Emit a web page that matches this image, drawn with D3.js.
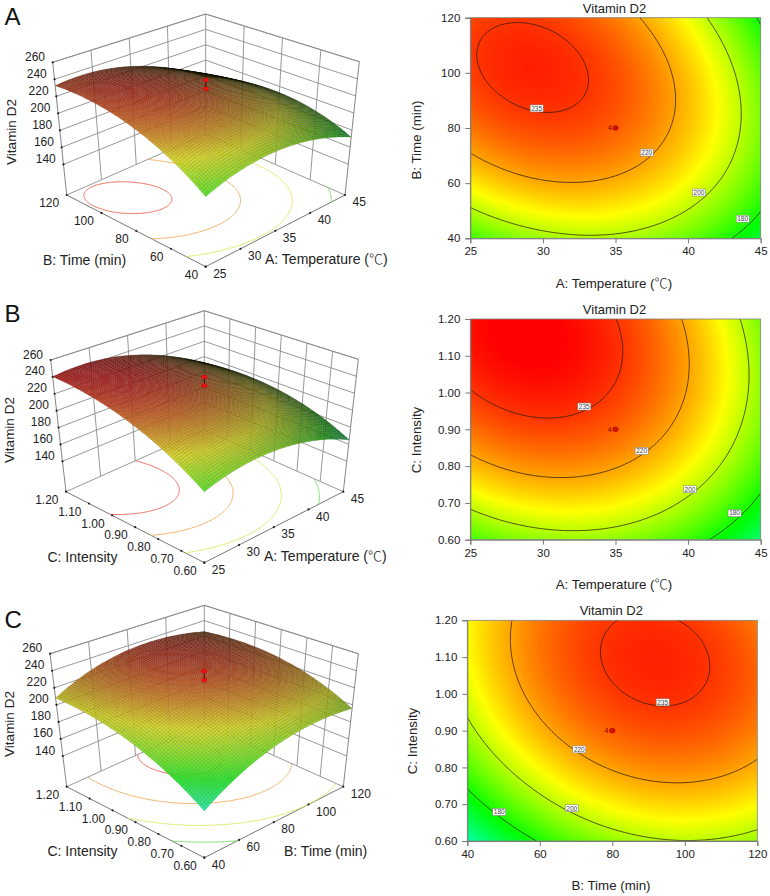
<!DOCTYPE html>
<html><head><meta charset="utf-8">
<script src="https://cdn.jsdelivr.net/npm/d3@7"></script>
<style>
html,body{margin:0;padding:0;background:#fff}
svg{display:block}
text{font-family:"Liberation Sans",Arial,sans-serif;fill:#222}
.cjk{font-family:"Noto Sans CJK SC",sans-serif;font-weight:300}
</style></head><body>
<svg id="chart" width="770" height="896"></svg>
<script>
// ---------- data ----------
const temperatureTicks = [25,30,35,40,45];
const timeTicks = [40,60,80,100,120];
const intensityTicks = [0.6,0.7,0.8,0.9,1.0,1.1,1.2];
const responseTicks = [140,160,180,200,220,240,260];
const responseFloor = 104;
const contourLevels = [180,200,220,235];
const contourFloorColors = ["#7fe272","#e4ea72","#f2b56c","#ee7464"];
const paletteStops = [148,178,208,242];
const paletteColors = ["#00ffff","#00ff00","#ffff00","#ff0000"];

// response read at the grid nodes (rows = y variable low to high, cols = x variable low to high)
const temperatureNodes = [25,30,35,40,45];
const timeNodes = [40,60,80,100,120];
const intensityNodes = [0.6,0.75,0.9,1.05,1.2];
const responseTempTime = [
 [184.9,196.4,198.1,189.8,171.7],
 [210.0,219.0,218.0,207.2,186.5],
 [226.3,232.7,229.2,215.8,192.5],
 [233.8,237.6,231.5,215.5,189.7],
 [232.5,233.7,225.1,206.5,178.1]];
const responseTempIntensity = [
 [185.8,195.0,194.6,184.7,165.1],
 [209.9,217.4,215.2,203.5,182.2],
 [227.0,232.7,228.9,215.4,192.3],
 [237.1,241.1,235.5,220.2,195.4],
 [240.2,242.4,235.1,218.1,191.5]];
const responseTimeIntensity = [
 [158.0,180.9,194.9,199.8,195.7],
 [181.1,202.8,215.5,219.1,213.8],
 [197.2,217.6,229.0,231.4,224.8],
 [206.1,225.2,235.4,236.6,228.7],
 [207.9,225.8,234.7,234.6,225.5]];

// design point: axis centre and the two responses marked in 3D
const centreTemperature = 35, centreTime = 80, centreIntensity = 0.9;
const centreReplicates = "4";
const centreResponses = [234.5,245.0];

// contour label anchors [x, y, level]
const labelsTempTime = [[29.57,87.1,235],[37.15,71.1,220],[40.75,56.6,200],[43.76,47.1,180]];
const labelsTempIntensity = [[32.85,0.962,235],[36.8,0.841,220],[40.13,0.737,200],[43.2,0.672,180]];
const labelsTimeIntensity = [[93.9,0.977,235],[70.9,0.849,220],[68.8,0.689,200],[48.8,0.679,180]];

const titleText = "Vitamin D2";
const labelTemperature = "A: Temperature (";
const labelTemperatureUnit = "\u2103";
const labelTime = "B: Time (min)";
const labelIntensity = "C: Intensity";

// ---------- layout ----------
const panels = [
 {letter:"A",letterY:24.5,grid:responseTempTime,xNodes:temperatureNodes,yNodes:timeNodes,
  xTicks:temperatureTicks,yTicks:timeTicks,xFmt:d3.format("d"),yFmt:d3.format("d"),
  xLabel:labelTemperature,yLabel:labelTime,cx:centreTemperature,cy:centreTime,labels:labelsTempTime,
  cube:{fL:[66.7,195],fF:[205.7,266.7],fR:[345,195],fB:[205.7,134],tL:[52.7,62.3],tF:[205.7,131.7],tR:[359.3,61.7],tB:[205.7,14]},
  zTitle:[11,132],xT:[265,259],yT:[84.5,260],
  plot:{l:470.3,r:760.7,t:17.7,b:238.3},titleY:12.7,xLabelY:288,yLabelX:416.7,yLabelC:140,xLabelC:614},
 {letter:"B",letterY:321.7,grid:responseTempIntensity,xNodes:temperatureNodes,yNodes:intensityNodes,
  xTicks:temperatureTicks,yTicks:intensityTicks,xFmt:d3.format("d"),yFmt:d3.format(".2f"),
  xLabel:labelTemperature,yLabel:labelIntensity,cx:centreTemperature,cy:centreIntensity,labels:labelsTempIntensity,
  cube:{fL:[66,491.7],fF:[204.3,562.7],fR:[343.3,491.7],fB:[204.3,430],tL:[50.7,360],tF:[204.3,427.7],tR:[358.3,359.3],tB:[204.3,310.7]},
  zTitle:[9.5,430],xT:[264,556],yT:[82.5,557],
  plot:{l:470.3,r:760.7,t:319,b:539.7},titleY:314,xLabelY:589,yLabelX:416.7,yLabelC:440,xLabelC:614},
 {letter:"C",letterY:627.5,grid:responseTimeIntensity,xNodes:timeNodes,yNodes:intensityNodes,
  xTicks:timeTicks,yTicks:intensityTicks,xFmt:d3.format("d"),yFmt:d3.format(".2f"),
  xLabel:labelTime,yLabel:labelIntensity,cx:centreTime,cy:centreIntensity,labels:labelsTimeIntensity,
  cube:{fL:[66.7,786.7],fF:[204.3,857.7],fR:[343.3,786.7],fB:[204.3,724.3],tL:[50,653.7],tF:[204.3,722.7],tR:[358.3,653.7],tB:[204.3,605.3]},
  zTitle:[9.5,724],xT:[284,851],yT:[82.5,851],
  plot:{l:467.3,r:757.3,t:620.3,b:841},titleY:615,xLabelY:890,yLabelX:412.7,yLabelC:741,xLabelC:611}
];

const svg = d3.select("#chart");
const palette = d3.scaleLinear().domain(paletteStops).range(paletteColors).interpolate(d3.interpolateRgb).clamp(true);
const zNorm = d3.scaleLinear().domain([responseFloor,260]).range([0,1]);

function labelText(sel,text){
  sel.text(text);
  if(text===labelTemperature){
    sel.append("tspan").attr("class","cjk").text(labelTemperatureUnit);
    sel.append("tspan").text(")");
  }
  return sel;
}

// smooth reading between the nodes of a response table (display refinement of the surface)
function nodeWeights(t){
  const w=[];
  for(let i=0;i<5;i++){let p=1;for(let j=0;j<5;j++){if(j!==i)p*=(t-j)/(i-j);}w.push(p);}
  return w;
}
function reader(grid){
  return (u,v)=>{
    const wu=nodeWeights(u*4),wv=nodeWeights(v*4);let s=0;
    for(let r=0;r<5;r++)for(let c=0;c<5;c++)s+=wv[r]*wu[c]*grid[r][c];
    return s;
  };
}
const lerp=(a,b,t)=>[a[0]+(b[0]-a[0])*t,a[1]+(b[1]-a[1])*t];
function projector(c){
  const plane=(F,R,L,B,u,v)=>lerp(lerp(F,R,u),lerp(L,B,u),v);
  return (u,v,w)=>lerp(plane(c.fF,c.fR,c.fL,c.fB,u,v),plane(c.tF,c.tR,c.tL,c.tB,u,v),w);
}
const line=d3.line();

// contour lines in unit coordinates, without the pieces running along the border
function contourPaths(read,level,nx,ny){
  const vals=new Float64Array(nx*ny);
  for(let j=0;j<ny;j++)for(let i=0;i<nx;i++)vals[i+j*nx]=read(i/(nx-1),j/(ny-1));
  const g=d3.contours().size([nx,ny]).thresholds([level])(vals)[0];
  const out=[];
  const off=p=>p[0]<0.5-1e-9||p[0]>nx-0.5+1e-9||p[1]<0.5-1e-9||p[1]>ny-0.5+1e-9;
  g.coordinates.forEach(poly=>poly.forEach(ring=>{
    const pts=ring.slice(0,-1);
    let start=pts.findIndex(off);
    if(start<0){out.push(ring.map(p=>[(p[0]-.5)/(nx-1),(p[1]-.5)/(ny-1)]));return;}
    let cur=[];
    for(let k=0;k<pts.length;k++){
      const p=pts[(start+k)%pts.length];
      if(off(p)){if(cur.length>1)out.push(cur);cur=[];}
      else cur.push([(p[0]-.5)/(nx-1),(p[1]-.5)/(ny-1)]);
    }
    if(cur.length>1)out.push(cur);
  }));
  return out;
}

panels.forEach(P=>{
  const read=reader(P.grid);
  const project=projector(P.cube);
  const xU=d3.scaleLinear().domain(d3.extent(P.xNodes)).range([0,1]);
  const yU=d3.scaleLinear().domain(d3.extent(P.yNodes)).range([0,1]);
  const g=svg.append("g");

  svg.append("text").attr("x",4.5).attr("y",P.letterY).attr("font-size",24).style("fill","#111").text(P.letter);

  // walls
  const wallColor="#8c8c8c";
  const seg=(a,b,col,wd)=>g.append("path").attr("d",line([a,b])).attr("fill","none").attr("stroke",col||wallColor).attr("stroke-width",wd||0.9);
  responseTicks.forEach(z=>{
    const w=zNorm(z);
    seg(project(0,1,w),project(1,1,w));
    seg(project(1,0,w),project(1,1,w));
  });
  P.xTicks.slice(1,-1).forEach(x=>seg(project(xU(x),1,0),project(xU(x),1,1)));
  P.yTicks.slice(1,-1).forEach(y=>seg(project(1,yU(y),0),project(1,yU(y),1)));
  seg(project(1,1,0),project(1,1,1));
  seg(project(0,1,0),project(1,1,0));
  seg(project(1,0,0),project(1,1,0));
  seg(project(0,1,0),project(0,1,1),"#777");
  seg(project(1,0,0),project(1,0,1),"#777");
  seg(project(0,1,1),project(1,1,1));
  seg(project(1,0,1),project(1,1,1));
  seg(project(0,0,0),project(1,0,0),"#666");
  seg(project(0,0,0),project(0,1,0),"#666");

  // floor contours
  contourLevels.forEach((lv,i)=>{
    contourPaths(read,lv,101,101).forEach(path=>{
      g.append("path").attr("d",line(path.map(p=>project(p[0],p[1],0))))
       .attr("fill","none").attr("stroke",contourFloorColors[i]).attr("stroke-width",1);
    });
  });

  // axis ticks and labels on the box
  const dot=(p)=>g.append("circle").attr("cx",p[0]).attr("cy",p[1]).attr("r",1.1).attr("fill","#222");
  P.xTicks.forEach((x,i)=>{
    const p=project(xU(x),0,0);dot(p);
    g.append("text").attr("x",p[0]+7.5).attr("y",p[1]+7).attr("dy",".35em").attr("font-size",12).text(P.xFmt(x));
  });
  P.yTicks.forEach(y=>{
    const p=project(0,yU(y),0);dot(p);
    g.append("text").attr("x",p[0]-7.5).attr("y",p[1]+8).attr("dy",".35em").attr("text-anchor","end").attr("font-size",12).text(P.yFmt(y));
  });
  responseTicks.forEach(z=>{
    const p=project(0,1,zNorm(z));dot(p);
    g.append("text").attr("x",p[0]-7.7).attr("y",p[1]-5.7).attr("dy",".35em").attr("text-anchor","end").attr("font-size",12).text(z);
  });
  labelText(g.append("text").attr("x",P.xT[0]).attr("y",P.xT[1]).attr("dy",".35em").attr("font-size",14),P.xLabel);
  g.append("text").attr("x",P.yT[0]).attr("y",P.yT[1]).attr("dy",".35em").attr("text-anchor","middle").attr("font-size",14).text(P.yLabel);
  g.append("text").attr("transform",`translate(${P.zTitle[0]},${P.zTitle[1]}) rotate(-90)`).attr("dy",".35em").attr("text-anchor","middle").attr("font-size",13.5).text(titleText);

  // surface, painted back to front
  const n=70, cells=[];
  const h=0.75, L=[-0.58,-0.58,0.58];
  for(let i=0;i<n;i++)for(let j=0;j<n;j++)cells.push([i,j]);
  cells.sort((a,b)=>(b[0]+b[1])-(a[0]+a[1]));
  const surf=g.append("g");
  surf.selectAll("path").data(cells).join("path").each(function(d){
    const u0=d[0]/n,u1=(d[0]+1)/n,v0=d[1]/n,v1=(d[1]+1)/n;
    const z00=read(u0,v0),z10=read(u1,v0),z01=read(u0,v1),z11=read(u1,v1);
    const zc=(z00+z10+z01+z11)/4;
    const pts=[project(u0,v0,zNorm(z00)),project(u1,v0,zNorm(z10)),project(u1,v1,zNorm(z11)),project(u0,v1,zNorm(z01))];
    const dzu=((z10+z11-z00-z01)/2)*n/156*h, dzv=((z01+z11-z00-z10)/2)*n/156*h;
    const len=Math.hypot(dzu,dzv,1);
    let br=(-dzu*L[0]-dzv*L[1]+L[2])/len;
    br=Math.pow(Math.max(0.02,Math.min(1,br)),0.72);
    const c=d3.rgb(palette(zc));
    const add=44*br;
    const col=d3.rgb(c.r*br*0.78+add,c.g*br*0.78+add,c.b*br*0.78+add);
    d3.select(this).attr("d",line(pts)+"Z").attr("fill",col.formatRgb())
      .attr("stroke","rgba(0,0,0,0.22)").attr("stroke-width",0.5);
  });

  // design point markers in 3D
  const m0=project(0.5,0.5,zNorm(centreResponses[0])),m1=project(0.5,0.5,zNorm(centreResponses[1]));
  g.append("path").attr("d",line([m0,m1])).attr("stroke","#400").attr("stroke-width",1);
  [m0,m1].forEach(m=>g.append("ellipse").attr("cx",m[0]).attr("cy",m[1]).attr("rx",2.8).attr("ry",2).attr("fill","#f01212").attr("stroke","#a00").attr("stroke-width",.4));

  // contour plot
  const pl=P.plot;
  const xS=d3.scaleLinear().domain(d3.extent(P.xNodes)).range([pl.l,pl.r]);
  const yS=d3.scaleLinear().domain(d3.extent(P.yNodes)).range([pl.b,pl.t]);
  const W=Math.round(pl.r-pl.l),H=Math.round(pl.b-pl.t);
  const cv=document.createElement("canvas");cv.width=W;cv.height=H;
  const ctx=cv.getContext("2d"),img=ctx.createImageData(W,H);
  for(let y=0;y<H;y++){
    const v=1-(y+.5)/H,wv=nodeWeights(v*4);
    for(let x=0;x<W;x++){
      const u=(x+.5)/W,wu=nodeWeights(u*4);let s=0;
      for(let r=0;r<5;r++)for(let c=0;c<5;c++)s+=wv[r]*wu[c]*P.grid[r][c];
      const col=d3.rgb(palette(s)),o=(x+y*W)*4;
      img.data[o]=col.r;img.data[o+1]=col.g;img.data[o+2]=col.b;img.data[o+3]=255;
    }
  }
  ctx.putImageData(img,0,0);
  const r=svg.append("g");
  r.append("image").attr("x",pl.l).attr("y",pl.t).attr("width",pl.r-pl.l).attr("height",pl.b-pl.t)
   .attr("preserveAspectRatio","none").attr("href",cv.toDataURL());
  contourLevels.forEach(lv=>{
    contourPaths(read,lv,121,121).forEach(path=>{
      r.append("path").attr("d",line(path.map(p=>[xS(xU.invert(p[0])),yS(yU.invert(p[1]))])))
       .attr("fill","none").attr("stroke","#2a1a10").attr("stroke-width",.75);
    });
  });
  const ax=r.append("g").attr("transform",`translate(0,${pl.b})`).call(d3.axisBottom(xS).tickValues(P.xTicks).tickFormat(P.xFmt).tickSize(5).tickPadding(4));
  const ay=r.append("g").attr("transform",`translate(${pl.l},0)`).call(d3.axisLeft(yS).tickValues(P.yTicks).tickFormat(P.yFmt).tickSize(5).tickPadding(5));
  [ax,ay].forEach(a=>{
    a.selectAll("text").attr("font-size",11.5).style("font-family",'"Liberation Sans",Arial,sans-serif').style("fill","#222");
    a.selectAll("line").attr("stroke","#777");
    a.select(".domain").attr("stroke","#777");
  });
  r.append("rect").attr("x",pl.l).attr("y",pl.t).attr("width",pl.r-pl.l).attr("height",pl.b-pl.t).attr("fill","none").attr("stroke","#808080").attr("stroke-width",.8);

  P.labels.forEach(d=>{
    const x=xS(d[0]),y=yS(d[1]);
    r.append("rect").attr("x",x-6.5).attr("y",y-3.5).attr("width",13).attr("height",7).attr("fill","#fff").attr("stroke","#777").attr("stroke-width",.5);
    r.append("text").attr("x",x).attr("y",y).attr("dy",".35em").attr("text-anchor","middle").attr("font-size",6.5).style("fill","#444").text(d[2]);
  });
  r.append("ellipse").attr("cx",xS(P.cx)).attr("cy",yS(P.cy)).attr("rx",2.8).attr("ry",2.4).attr("fill","#d81200").attr("stroke","#900").attr("stroke-width",.5);
  r.append("text").attr("x",xS(P.cx)-3.8).attr("y",yS(P.cy)).attr("dy",".35em").attr("text-anchor","end").attr("font-size",7).style("fill","#800").text(centreReplicates);

  r.append("text").attr("x",(pl.l+pl.r)/2-1).attr("y",P.titleY).attr("text-anchor","middle").attr("font-size",13).text(titleText);
  labelText(r.append("text").attr("x",P.xLabelC).attr("y",P.xLabelY).attr("text-anchor","middle").attr("font-size",13.3),P.xLabel);
  r.append("text").attr("transform",`translate(${P.yLabelX},${P.yLabelC}) rotate(-90)`).attr("dy",".35em").attr("text-anchor","middle").attr("font-size",13.3).text(P.yLabel);
});
</script>
</body></html>
